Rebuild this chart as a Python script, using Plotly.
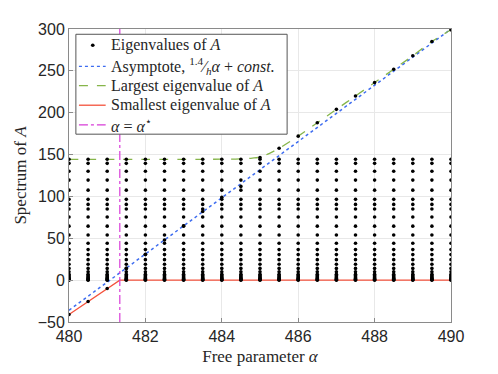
import plotly.graph_objects as go

# values
alphas = [480, 480.5, 481, 481.5, 482, 482.5, 483, 483.5, 484, 484.5, 485,
          485.5, 486, 486.5, 487, 487.5, 488, 488.5, 489, 489.5, 490]

# eigenvalues that hardly move with alpha
base_eigs = [0, 0.5, 1.2, 2, 3, 4, 5.5, 7, 10, 14, 19, 24.5, 30.5, 36.5, 44,
             54, 64.5, 75.5, 85, 90.5, 96.5, 107.5, 119.5, 130, 139.5, 144.5]

# the one eigenvalue that follows alpha
moving_eig = [-41, -25.5, -10, 14, 31, 48, 65, 82, 99, 112, 146.5,
              157.5, 172, 188, 204, 220, 236, 252, 268, 285, 299]

alpha_star = 481.33

asym_x = [480, 490]
asym_y = [-36, 300]

small_x = [480, 480.5, 481, alpha_star, 490]
small_y = [-41, -25.5, -10, 0, 0]

large_x = [480, 484, 484.5, 484.8, 485, 485.25, 485.5, 486, 486.5, 487,
           487.5, 488, 488.5, 489, 489.5, 490]
large_y = [144.3, 144.5, 145, 145.8, 147, 151.5, 157.5, 172, 188, 204,
           220, 236, 252, 268, 285, 299]

legend_labels = ["Eigenvalues of <i>A</i>",
                 "Asymptote, <sup>1.4</sup>⁄<sub><i>h</i></sub><i>α</i> + <i>const.</i>",
                 "Largest eigenvalue of <i>A</i>",
                 "Smallest eigenvalue of <i>A</i>",
                 "<i>α</i> = <i>α</i><sup>⋆</sup>"]

dot_x, dot_y = [], []
for a, m in zip(alphas, moving_eig):
    for v in base_eigs + [m]:
        dot_x.append(a)
        dot_y.append(v)

serif = "Liberation Serif"
sans = "Liberation Sans"

blue = "#3d6cf0"
green = "#86b54a"
red = "#f4523c"
magenta = "#d83cd8"

fig = go.Figure()

fig.add_trace(go.Scatter(x=asym_x, y=asym_y, mode="lines",
                         line=dict(color=blue, width=1.5, dash="dot")))
fig.add_trace(go.Scatter(x=large_x, y=large_y, mode="lines", line_shape="spline",
                         line=dict(color=green, width=1.3, dash="dash")))
fig.add_trace(go.Scatter(x=small_x, y=small_y, mode="lines",
                         line=dict(color=red, width=1.3)))
fig.add_trace(go.Scatter(x=[alpha_star, alpha_star], y=[-50, 300], mode="lines",
                         line=dict(color=magenta, width=1.2, dash="dashdot")))
fig.add_trace(go.Scatter(x=dot_x, y=dot_y, mode="markers",
                         marker=dict(color="black", size=3.6)))

axis_common = dict(showline=True, linecolor="#8a8a8a", linewidth=1, mirror=True,
                   ticks="inside", ticklen=4, tickcolor="#8a8a8a",
                   showgrid=True, gridcolor="#e8e8e8", gridwidth=1,
                   zeroline=False, tickfont=dict(family=sans, size=16, color="#262626"))

fig.update_xaxes(range=[480, 490], tick0=480, dtick=2,
                 title=dict(text="Free parameter <i>α</i>", standoff=5,
                            font=dict(family=serif, size=17, color="#262626")),
                 **axis_common)
fig.update_yaxes(range=[-50, 300], tick0=-50, dtick=50,
                 title=dict(text="Spectrum of <i>A</i>", standoff=6,
                            font=dict(family=serif, size=17, color="#262626")),
                 **axis_common)

# hand-made legend box (MATLAB style), in paper coordinates
shapes = [dict(type="rect", xref="paper", yref="paper",
               x0=0.018, x1=0.571, y0=0.641, y1=0.982,
               fillcolor="white", line=dict(color="#555555", width=1))]
rows = [0.9446, 0.8725, 0.8070, 0.7399, 0.6728]
samples = [None, (blue, "dot"), (green, "dash"), (red, "solid"), (magenta, "dashdot")]
for yy, smp in zip(rows, samples):
    if smp is None:
        shapes.append(dict(type="circle", xref="paper", yref="paper",
                           x0=0.0622 - 0.0048, x1=0.0622 + 0.0048,
                           y0=yy - 0.0062, y1=yy + 0.0062,
                           fillcolor="black", line=dict(width=0)))
    else:
        shapes.append(dict(type="line", xref="paper", yref="paper",
                           x0=0.026, x1=0.096, y0=yy, y1=yy,
                           line=dict(color=smp[0], width=1.3, dash=smp[1])))

annotations = [dict(xref="paper", yref="paper", x=0.1036, y=yy, text=t,
                    showarrow=False, xanchor="left", yanchor="middle",
                    font=dict(family=serif, size=16, color="#262626"))
               for yy, t in zip(rows, legend_labels)]

# page has an 8px body margin, so the figure is a bit smaller than the window
fig.update_layout(
    width=490, height=366,
    margin=dict(l=57, r=47, t=21, b=39),
    plot_bgcolor="white", paper_bgcolor="white",
    showlegend=False,
    shapes=shapes, annotations=annotations,
)

fig.write_html("out.html")
